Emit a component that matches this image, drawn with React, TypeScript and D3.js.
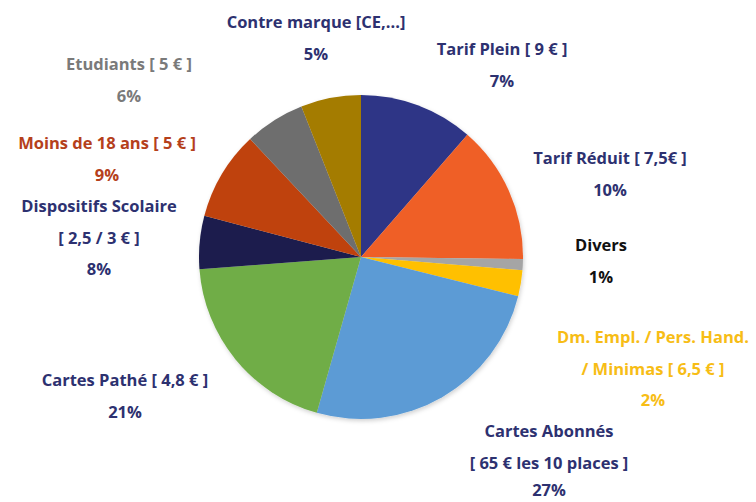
import React from "react";
import * as d3 from "d3";

const categories = [
  "Tarif Plein",
  "Tarif Réduit",
  "Divers",
  "Dm. Empl.",
  "Cartes Abonnés",
  "Cartes Pathé",
  "Dispositifs Scolaire",
  "Moins de 18 ans",
  "Etudiants",
  "Contre marque",
];
const sliceValues = [11.4, 13.8, 1.1, 2.6, 25.5, 19.4, 5.3, 8.9, 6.0, 6.0];
// printed labels
const labelLines = [
  ["Tarif Plein [ 9 € ]", "7%"],
  ["Tarif Réduit [ 7,5€ ]", "10%"],
  ["Divers", "1%"],
  ["Dm. Empl. / Pers. Hand.", "/ Minimas [ 6,5 € ]", "2%"],
  ["Cartes Abonnés", "[ 65 € les 10 places ]", "27%"],
  ["Cartes Pathé [ 4,8 € ]", "21%"],
  ["Dispositifs Scolaire", "[ 2,5 / 3 € ]", "8%"],
  ["Moins de 18 ans [ 5 € ]", "9%"],
  ["Etudiants [ 5 € ]", "6%"],
  ["Contre marque [CE,...]", "5%"],
];
const sliceColors = [
  "#2D3586", "#EF5F27", "#A5A5A5", "#FFC000", "#5B9BD5",
  "#70AD47", "#1C1F4D", "#BF430F", "#6E6E6E", "#A47B00",
];
const textColors = [
  "#2D3170", "#2D3170", "#111111", "#F7BD16", "#2D3170",
  "#2D3170", "#2D3170", "#B5401B", "#7A7A7A", "#2D3170",
];
// label anchor (center x, first baseline y)
const labelPos: [number, number][] = [
  [502, 55], [610, 164], [601, 251], [653, 343], [549, 437],
  [125, 386], [99, 212], [107, 149], [129, 70], [316, 28],
];

const W = 756, H = 502;
const cx = 361, cy = 257, R = 162;
const lineH = 31.5;

export default function App() {
  const pie = d3.pie<number>().sort(null).value((d) => d);
  const arcs = pie(sliceValues);
  const arc = d3.arc<d3.PieArcDatum<number>>().innerRadius(0).outerRadius(R);
  return (
    <svg width={W} height={H} style={{ position: "absolute", left: 0, top: 0, background: "#fff" }}>
      <rect width={W} height={H} fill="#fff" />
      <defs>
        <filter id="sh" x="-20%" y="-20%" width="140%" height="140%">
          <feDropShadow dx="1" dy="2" stdDeviation="2" floodColor="#000" floodOpacity="0.18" />
        </filter>
      </defs>
      <g transform={`translate(${cx},${cy})`} filter="url(#sh)">
        {arcs.map((a, i) => (
          <path key={categories[i]} d={arc(a) || ""} fill={sliceColors[i]} />
        ))}
      </g>
      <g fontFamily="'Open Sans', sans-serif" fontWeight={700} fontSize={16.5} textAnchor="middle">
        {labelLines.map((lines, i) => (
          <text key={categories[i]} fill={textColors[i]}>
            {lines.map((l, j) => (
              <tspan key={j} x={labelPos[i][0]} y={Math.min(labelPos[i][1] + j * lineH, 496)}>{l}</tspan>
            ))}
          </text>
        ))}
      </g>
    </svg>
  );
}
